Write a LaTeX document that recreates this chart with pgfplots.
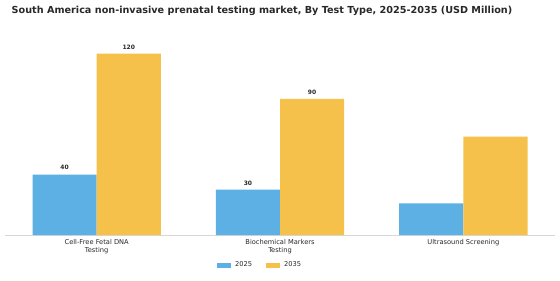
\documentclass[border=0pt]{standalone}
\usepackage{pgfplots}
\pgfplotsset{compat=1.18}
\usepackage{fontspec}
\setmainfont{DejaVu Sans}
\definecolor{cblue}{RGB}{93,176,228}
\definecolor{cyellow}{RGB}{246,193,74}
\definecolor{axgray}{RGB}{215,215,215}
\definecolor{txt}{RGB}{40,40,40}
\begin{document}
\begin{tikzpicture}[x=1bp,y=1bp]
\useasboundingbox (0,0) rectangle (560,280);
\node[font=\bfseries\fontsize{9.7}{10}\selectfont, text=txt] at (262,269) {South America non-invasive prenatal testing market, By Test Type, 2025-2035 (USD Million)};
\begin{axis}[
  at={(5bp,45bp)}, anchor=south west,
  scale only axis, width=550bp, height=195bp,
  xmin=-0.5, xmax=2.5, ymin=0, ymax=129,
  ybar=0pt, bar width=0.35,
  axis x line*=bottom, axis y line=none,
  x axis line style={draw=axgray, line width=0.8pt, -},
  xtick={0,1,2}, xticklabels={{Cell-Free Fetal DNA\\Testing},{Biochemical Markers\\Testing},{Ultrasound Screening}},
  xticklabel style={align=center, font=\fontsize{6.7}{7.8}\selectfont, text=txt, yshift=-1pt},
  major tick length=0pt,
  nodes near coords, point meta=explicit symbolic,
  every node near coord/.append style={font=\bfseries\fontsize{6}{6.5}\selectfont, text=txt, yshift=1pt},
  legend style={at={(0.464,-0.155)}, anchor=center, draw=none, legend columns=2, font=\fontsize{6.7}{7.5}\selectfont, text=txt,
    /tikz/every even column/.append style={column sep=12bp}},
  legend image code/.code={\fill[#1] (0bp,-2.5bp) rectangle (14bp,2.5bp);},
]
\addplot[fill=cblue, draw=none] coordinates {(0,40) [40] (1,30) [30] (2,21) []};
\addplot[fill=cyellow, draw=none] coordinates {(0,120) [120] (1,90) [90] (2,65) []};
\legend{\hspace{2bp}2025,\hspace{2bp}2035}
\end{axis}
\end{tikzpicture}
\end{document}
